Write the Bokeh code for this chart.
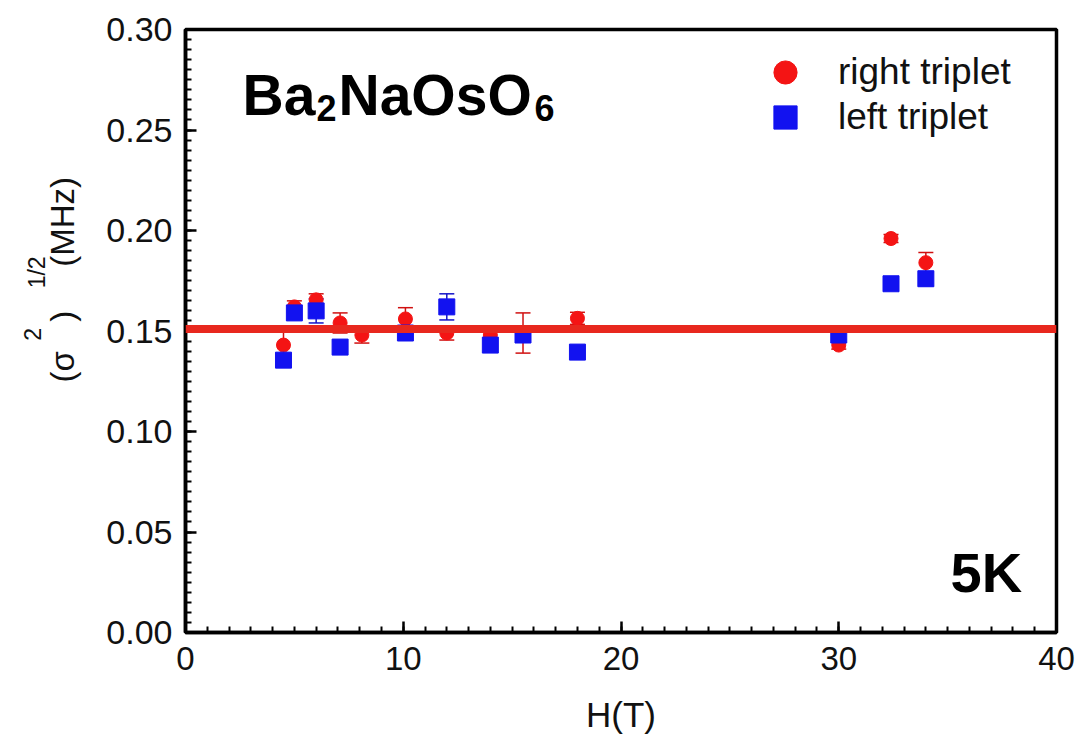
import math
from bokeh.plotting import figure
from bokeh.layouts import row
from bokeh.models import (ColumnDataSource, Whisker, TeeHead, Span, Label, Legend,
                          LegendItem, FixedTicker, Range1d)
from bokeh.core.properties import value
from bokeh.embed import file_html
from bokeh.resources import INLINE

# ---------------- data ----------------
h_right = [4.5, 5.0, 6.0, 7.1, 8.1, 10.1, 12.0, 14.0, 15.5, 18.0, 30.0, 32.4, 34.0]
sig_right = [0.143, 0.162, 0.1655, 0.154, 0.148, 0.156, 0.149, 0.148, 0.149, 0.1563, 0.143, 0.196, 0.184]
err_right = [0.008, 0.003, 0.003, 0.005, 0.004, 0.0056, 0.0035, 0.002, 0.010, 0.003, 0.002, 0.002, 0.005]

h_left = [4.5, 5.0, 6.0, 7.1, 10.1, 12.0, 14.0, 15.5, 18.0, 30.0, 32.4, 34.0]
sig_left = [0.1355, 0.159, 0.160, 0.142, 0.149, 0.162, 0.143, 0.148, 0.1395, 0.148, 0.1735, 0.176]
err_left = [0.003, 0.003, 0.006, 0.003, 0.002, 0.0065, 0.0035, 0.003, 0.002, 0.002, 0.002, 0.0035]

mean_level = 0.151

x_ticks = [0, 10, 20, 30, 40]
x_tick_labels = ["0", "10", "20", "30", "40"]
y_ticks = [0.0, 0.05, 0.10, 0.15, 0.20, 0.25, 0.30]
y_tick_labels = ["0.00", "0.05", "0.10", "0.15", "0.20", "0.25", "0.30"]

series_labels = ["right triplet", "left triplet"]
RED = "#f41414"
BLUE = "#1212f0"
LINE_RED = "#e8281e"
FONT = "Liberation Sans"

LAB_W = 100            # width of the strip that carries the y-axis title
W, H = 1077, 740

# ---------------- main figure ----------------
p = figure(width=W - LAB_W, height=H, output_backend="svg", toolbar_location=None,
           x_range=Range1d(0, 40), y_range=Range1d(0, 0.30),
           min_border_left=185 - LAB_W, min_border_right=21, min_border_top=29,
           min_border_bottom=108)
p.background_fill_color = "white"
p.border_fill_color = "white"
p.grid.visible = False
p.outline_line_color = "black"
p.outline_line_width = 3.5

p.xaxis.ticker = FixedTicker(ticks=x_ticks, minor_ticks=[i for i in range(0, 41)])
p.xaxis.major_label_overrides = {t: l for t, l in zip(x_ticks, x_tick_labels)}
p.yaxis.ticker = FixedTicker(ticks=y_ticks, minor_ticks=[round(i * 0.005, 3) for i in range(61)])
p.yaxis.major_label_overrides = {t: l for t, l in zip(y_ticks, y_tick_labels)}
for ax in (p.xaxis, p.yaxis):
    ax.axis_line_width = 3.5
    ax.axis_line_color = "black"
    ax.major_tick_in = 11
    ax.major_tick_out = 0
    ax.minor_tick_in = 6
    ax.minor_tick_out = 0
    ax.major_tick_line_width = 2.5
    ax.minor_tick_line_width = 2
    ax.major_label_text_font = FONT
    ax.major_label_text_color = "#111111"
p.xaxis.major_label_text_font_size = "33px"
p.yaxis.major_label_text_font_size = "34px"
p.xaxis.major_label_standoff = 14
p.yaxis.major_label_standoff = 13
p.xaxis.axis_label = "H(T)"
p.xaxis.axis_label_text_font = FONT
p.xaxis.axis_label_text_font_size = "35px"
p.xaxis.axis_label_text_font_style = "normal"
p.xaxis.axis_label_text_color = "#111111"
p.xaxis.axis_label_standoff = 22

# data sources
src_r = ColumnDataSource(dict(x=h_right, y=sig_right,
                              lo=[v - e for v, e in zip(sig_right, err_right)],
                              hi=[v + e for v, e in zip(sig_right, err_right)]))
src_l = ColumnDataSource(dict(x=h_left, y=sig_left,
                              lo=[v - e for v, e in zip(sig_left, err_left)],
                              hi=[v + e for v, e in zip(sig_left, err_left)]))

for src, col in ((src_r, "#d01010"), (src_l, "#1414c8")):
    w = Whisker(source=src, base="x", lower="lo", upper="hi", dimension="height",
                line_color=col, line_width=1.5,
                upper_head=TeeHead(size=15, line_color=col, line_width=1.5),
                lower_head=TeeHead(size=15, line_color=col, line_width=1.5))
    p.add_layout(w)

r_red = p.scatter("x", "y", source=src_r, marker="circle", size=14,
                  fill_color=RED, line_color=RED)
r_blue = p.scatter("x", "y", source=src_l, marker="square", size=16,
                   fill_color=BLUE, line_color=BLUE)

p.add_layout(Span(location=mean_level, dimension="width", line_color=LINE_RED, line_width=8))

# legend: one row per Legend so rows can sit closer than the glyph box
FRAME_BOTTOM = 632
for lab_text, rend, row_center in ((series_labels[0], r_red, 72), (series_labels[1], r_blue, 117)):
    lg = Legend(items=[LegendItem(label=lab_text, renderers=[rend])],
                location=(756 - 185, FRAME_BOTTOM - (row_center + 30)),
                glyph_width=58, glyph_height=60, spacing=0,
                label_standoff=24, padding=0, margin=0,
                border_line_color=None, background_fill_alpha=0,
                label_text_font=FONT, label_text_font_size="37px",
                label_text_color="#111111")
    p.add_layout(lg)

FL, FB = 185, 632  # frame left / bottom in page pixels


def add_label(text, X, Y, size, bold=False, align="left"):
    p.add_layout(Label(x=X - FL, y=FB - Y, x_units="screen", y_units="screen", text=text,
                       text_font=FONT, text_font_size=f"{size}px",
                       text_font_style="bold" if bold else "normal",
                       text_align=align, text_baseline="middle", text_color="black"))


# formula Ba2NaOsO6 (subscripts as smaller labels)
add_label("Ba", 242, 94, 57, bold=True)
add_label("2", 316, 107, 36, bold=True)
add_label("NaOsO", 338, 94, 57, bold=True)
add_label("6", 534, 107, 36, bold=True)

add_label("5K", 950, 572, 56, bold=True)

# ---------------- strip with the rotated y-axis title ----------------
lab = figure(width=LAB_W, height=H, output_backend="svg", toolbar_location=None,
             x_range=Range1d(0, LAB_W), y_range=Range1d(0, H),
             min_border=0, outline_line_color=None)
lab.axis.visible = False
lab.grid.visible = False
lab.background_fill_color = "white"
lab.border_fill_color = "white"

A = math.pi / 2
main_parts = ["(\u03c3", ")", "(MHz)"]
main_x = [62, 62, 62]
main_y = [H - 414, H - 352, H - 236]
sup_parts = ["2", "1/2"]
sup_x = [32, 36]
sup_y = [H - 374, H - 298]
lab.text(x=main_x, y=main_y, text=main_parts, angle=A, text_align="center",
         text_baseline="middle", text_font=value(FONT), text_font_size="33px",
         text_color="#111111")
lab.text(x=sup_x, y=sup_y, text=sup_parts, angle=A, text_align="center",
         text_baseline="middle", text_font=value(FONT), text_font_size="23px",
         text_color="#111111")

layout = row(lab, p, spacing=0)
open("out.html", "w").write(file_html(layout, INLINE))
